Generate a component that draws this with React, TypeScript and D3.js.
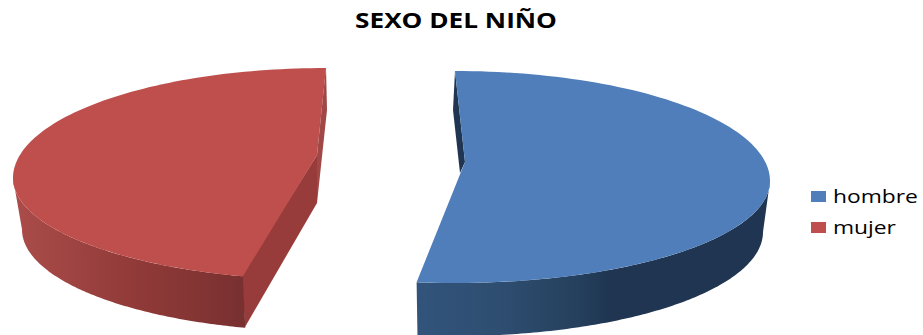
import React from "react";
import * as d3 from "d3";

// Shares of each sex among the children surveyed
const categories = ["hombre", "mujer"];
const shares = [53, 47];
const topColors = ["#4F7EBA", "#BE4F4C"];
const title = "SEXO DEL NIÑO";

const WIDTH = 923;
const HEIGHT = 335;
const DEG = Math.PI / 180;

// Text in this chart is set in a horizontally widened face.
const TITLE_STRETCH = 1.247;
const LEGEND_STRETCH = 1.2;

const RY_FAR = 110;

// Per-slice projection of the exploded, tilted disc.
const slices = [
  {
    top: { cx: 455, cy: 181, rx: 315, ryNear: 102 },
    floor: { cx: 455, cy: 232, rx: 308, ryNear: 104 },
    apex: [465, 162],
    seam: { start: 0, end: -3.8 },
    wallFrom: 90,
    cutNear: null as null | number[][],
    cutFar: [[455, 71], [453, 110], [460, 173], [465, 162]],
    cutNearFill: "",
    cutFarFill: "#1F3552",
    wallStops: [["0%", "#32547B"], ["24%", "#2E4D70"], ["46%", "#24405C"], ["55%", "#1F3552"], ["100%", "#1F3552"]],
    wallRange: [416, 770],
  },
  {
    top: { cx: 326, cy: 178, rx: 313, ryNear: 102 },
    floor: { cx: 326, cy: 229.5, rx: 304, ryNear: 102 },
    apex: [317, 155],
    seam: { start: 4.6, end: 0 },
    wallFrom: 270,
    cutNear: [[242, 275], [245, 327], [317, 203], [317, 155]],
    cutFar: [[326, 67], [327, 110], [317, 203], [317, 155]],
    cutNearFill: "#973C3B",
    cutFarFill: "#A04846",
    wallStops: [["0%", "#AB4D4A"], ["50%", "#923B39"], ["100%", "#783030"]],
    wallRange: [13, 245],
  },
];

type Ellipse = { cx: number; cy: number; rx: number; ryNear: number };

// Position on a slice's rim; the far half of the disc is foreshortened differently.
const rimPoint = (e: Ellipse, a: number): [number, number] => {
  const c = Math.cos(a);
  return [e.cx + e.rx * Math.sin(a), e.cy - (c > 0 ? RY_FAR : e.ryNear) * c];
};

const rim = (e: Ellipse, a0: number, a1: number) =>
  d3.range(0, 121).map((i) => rimPoint(e, a0 + ((a1 - a0) * i) / 120));

const line = d3.line<[number, number]>();
const polygon = (pts: number[][]) => line(pts as [number, number][]) + "Z";

export default function App() {
  const arcs = d3.pie<number>().sort(null)(shares);

  const legendY = d3
    .scalePoint<string>()
    .domain(categories)
    .range([197, 228]);

  return (
    <svg
      width={WIDTH}
      height={HEIGHT}
      viewBox={`0 0 ${WIDTH} ${HEIGHT}`}
      style={{ position: "fixed", left: 0, top: 0, background: "#fff" }}
    >
      <defs>
        {slices.map((s, i) => (
          <linearGradient
            key={i}
            id={`wall-${i}`}
            gradientUnits="userSpaceOnUse"
            x1={s.wallRange[0]}
            x2={s.wallRange[1]}
            y1={0}
            y2={0}
          >
            {s.wallStops.map(([offset, color]) => (
              <stop key={offset} offset={offset} stopColor={color} />
            ))}
          </linearGradient>
        ))}
      </defs>

      <text
        transform={`translate(456,28) scale(${TITLE_STRETCH},1)`}
        textAnchor="middle"
        fontFamily="'Open Sans', sans-serif"
        fontWeight={700}
        fontSize={21}
        fill="#000"
      >
        {title}
      </text>

      {arcs.map((d, i) => {
        const s = slices[i];
        const a0 = d.startAngle + s.seam.start * DEG;
        const a1 = d.endAngle + s.seam.end * DEG;
        const wallA0 = s.wallFrom === 90 ? 90 * DEG : a0;
        const wallA1 = s.wallFrom === 90 ? a1 : 270 * DEG;

        const wallTop = rim(s.top, wallA0, wallA1);
        const wallFloor = rim(s.floor, wallA0, wallA1).reverse();
        const face = [s.apex, ...rim(s.top, a0, a1)] as number[][];

        return (
          <g key={categories[i]}>
            <path d={polygon(s.cutFar)} fill={s.cutFarFill} />
            {s.cutNear && <path d={polygon(s.cutNear)} fill={s.cutNearFill} />}
            <path d={polygon([...wallTop, ...wallFloor])} fill={`url(#wall-${i})`} />
            <path d={polygon(face)} fill={topColors[i]} />
          </g>
        );
      })}

      {categories.map((c, i) => {
        const y = legendY(c) as number;
        return (
          <g key={c}>
            <rect x={811} y={y - 6} width={15} height={11} fill={topColors[i]} />
            <text
              transform={`translate(833,${y + 5.5}) scale(${LEGEND_STRETCH},1)`}
              fontFamily="'Open Sans', sans-serif"
              fontSize={19}
              fill="#000"
            >
              {c}
            </text>
          </g>
        );
      })}
    </svg>
  );
}
